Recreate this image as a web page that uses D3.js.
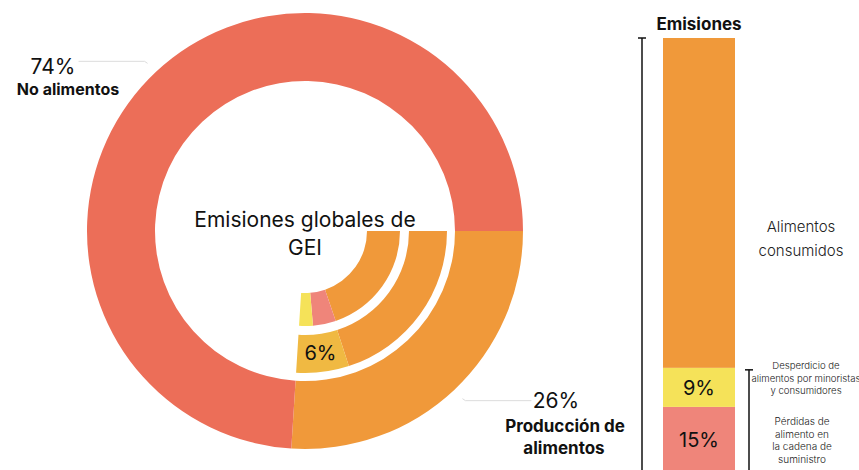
<!DOCTYPE html>
<html>
<head>
<meta charset="utf-8">
<script src="https://cdn.jsdelivr.net/npm/d3@7"></script>
<style>
  html, body { margin: 0; padding: 0; background: #fff; }
  svg { display: block; font-family: Inter, "Noto Sans", sans-serif; }
</style>
</head>
<body>
<svg id="chart" width="859" height="470"></svg>
<script>
// Global greenhouse-gas emissions: share of food production (outer ring)
const outerCategories = ["Producción de alimentos", "No alimentos"];
const outerValues = [26, 74];

// Food production split: rest vs. loss & waste (as % of global emissions)
const midCategories = ["Resto de la producción", "Pérdidas y desperdicio"];
const midValues = [20, 6];

// Food emissions breakdown (as % of food emissions)
const foodCategories = ["Alimentos consumidos", "Pérdidas de alimento en la cadena de suministro", "Desperdicio de alimentos por minoristas y consumidores"];
const foodValues = [76, 15, 9];

const colors = {
  noFood: "#EC6E58",
  food: "#F0993A",
  lossWaste: "#F0B942",
  loss: "#EF857A",
  waste: "#F5E259"
};

const svg = d3.select("#chart");
const cx = 305, cy = 231;
const tau = Math.PI * 2;
const start = Math.PI / 2;
const foodShare = outerValues[0] / d3.sum(outerValues);

// ---- Outer ring ----
const outerPie = d3.pie().sort(null).startAngle(start).endAngle(start + tau);
const outerArc = d3.arc().innerRadius(150).outerRadius(218);
const g = svg.append("g").attr("transform", `translate(${cx},${cy})`);
g.selectAll("path.outer")
  .data(outerPie(outerValues))
  .join("path")
  .attr("class", "outer")
  .attr("d", outerArc)
  .attr("fill", (d, i) => i === 0 ? colors.food : colors.noFood);

// ---- Middle ring: loss & waste within food production ----
const foodEnd = start + tau * foodShare;
const midPie = d3.pie().sort(null).startAngle(start).endAngle(foodEnd);
const midArc = d3.arc().innerRadius(104).outerRadius(142);
const midArcs = midPie(midValues);
g.selectAll("path.mid")
  .data(midArcs)
  .join("path")
  .attr("class", "mid")
  .attr("d", midArc)
  .attr("fill", (d, i) => i === 0 ? colors.food : colors.lossWaste);

g.append("text")
  .attr("transform", `translate(${midArc.centroid(midArcs[1])})`)
  .attr("text-anchor", "middle")
  .attr("dy", "0.36em")
  .attr("font-size", 20)
  .attr("fill", "#111")
  .text(midValues[1] + "%");

// ---- Inner ring: food emissions breakdown ----
const innerPie = d3.pie().sort(null).startAngle(start).endAngle(foodEnd);
const innerArc = d3.arc().innerRadius(62).outerRadius(95);
const innerColors = [colors.food, colors.loss, colors.waste];
g.selectAll("path.inner")
  .data(innerPie(foodValues))
  .join("path")
  .attr("class", "inner")
  .attr("d", innerArc)
  .attr("fill", (d, i) => innerColors[i]);

// ---- Centre title ----
const centre = g.append("text")
  .attr("text-anchor", "middle")
  .attr("font-size", 21)
  .attr("fill", "#111");
centre.append("tspan").attr("x", 0).attr("y", -4).text("Emisiones globales de");
centre.append("tspan").attr("x", 0).attr("y", 24).text("GEI");

// ---- Outer ring callouts: short leaders from each slice's mid-angle ----
const outerData = outerPie(outerValues);
const leaderR = 230;
const calloutLen = 66;
outerData.forEach(d => {
  const a = (d.startAngle + d.endAngle) / 2;
  const px = Math.sin(a) * leaderR, py = -Math.cos(a) * leaderR;
  const dir = px < 0 ? -1 : 1;
  const vy = py + (py < 0 ? -2 : 2);
  g.append("path")
    .attr("d", d3.line()([[px, py], [px + dir * 3, vy], [px + dir * (3 + calloutLen), vy]]))
    .attr("fill", "none")
    .attr("stroke", "#dcdcdc")
    .attr("stroke-width", 1);
});

// 74 % – No alimentos
svg.append("text")
  .attr("x", 53).attr("y", 74)
  .attr("text-anchor", "middle")
  .attr("font-size", 21)
  .attr("fill", "#111")
  .text(outerValues[1] + "%");
svg.append("text")
  .attr("x", 68).attr("y", 95)
  .attr("text-anchor", "middle")
  .attr("font-size", 16)
  .attr("font-weight", 700)
  .attr("fill", "#111")
  .text(outerCategories[1]);

// 26 % – Producción de alimentos
svg.append("text")
  .attr("x", 556).attr("y", 408)
  .attr("text-anchor", "middle")
  .attr("font-size", 21)
  .attr("fill", "#111")
  .text(outerValues[0] + "%");
const prodLabel = svg.append("text")
  .attr("text-anchor", "middle")
  .attr("font-size", 17)
  .attr("font-weight", 700)
  .attr("fill", "#111");
prodLabel.append("tspan").attr("x", 565).attr("y", 432).text("Producción de");
prodLabel.append("tspan").attr("x", 564).attr("y", 454).text("alimentos");

// ---- Stacked bar: food emissions ----
const barTop = 38, barBottom = 472;
const barX = 663, barW = 72;
const y = d3.scaleLinear().domain([0, 100]).range([barBottom, barTop]);

// stack from the bottom: losses, waste, consumed
const barOrder = [1, 2, 0];
let acc = 0;
const barSegs = barOrder.map(i => {
  const s = { i, y0: acc, y1: acc + foodValues[i] };
  acc += foodValues[i];
  return s;
});

svg.selectAll("rect.bar")
  .data(barSegs)
  .join("rect")
  .attr("class", "bar")
  .attr("x", barX)
  .attr("width", barW)
  .attr("y", d => y(d.y1))
  .attr("height", d => y(d.y0) - y(d.y1))
  .attr("fill", d => innerColors[d.i]);

svg.selectAll("text.barval")
  .data(barSegs.filter(d => d.i !== 0))
  .join("text")
  .attr("class", "barval")
  .attr("x", barX + barW / 2)
  .attr("y", d => (y(d.y0) + y(d.y1)) / 2)
  .attr("dy", "0.36em")
  .attr("text-anchor", "middle")
  .attr("font-size", 20)
  .attr("fill", "#111")
  .text(d => foodValues[d.i] + "%");

svg.append("text")
  .attr("x", barX + barW / 2).attr("y", 30)
  .attr("text-anchor", "middle")
  .attr("font-size", 17)
  .attr("font-weight", 700)
  .attr("fill", "#111")
  .text("Emisiones");

// brackets
function bracket(x, yTop, yBot) {
  svg.append("line").attr("x1", x).attr("x2", x).attr("y1", yTop).attr("y2", yBot)
    .attr("stroke", "#111").attr("stroke-width", 1.5);
  svg.append("line").attr("x1", x - 4).attr("x2", x + 4).attr("y1", yTop).attr("y2", yTop)
    .attr("stroke", "#111").attr("stroke-width", 1.5);
}
bracket(642, y(100), 470);
bracket(749, y(foodValues[1] + foodValues[2]) + 2, 470);

// bar annotations
function multiline(x, y0, lines, size, lh) {
  const t = svg.append("text")
    .attr("text-anchor", "middle")
    .attr("font-size", size)
    .attr("font-weight", 300)
    .attr("fill", "#222");
  lines.forEach((l, k) => t.append("tspan").attr("x", x).attr("y", y0 + k * lh).text(l));
}
multiline(801, 232, ["Alimentos", "consumidos"], 15, 24);
multiline(806, 369, ["Desperdicio de", "alimentos por minoristas", "y consumidores"], 9.6, 12.6);
multiline(802, 425, ["Pérdidas de", "alimento en", "la cadena de", "suministro"], 10, 12.7);
</script>
</body>
</html>
